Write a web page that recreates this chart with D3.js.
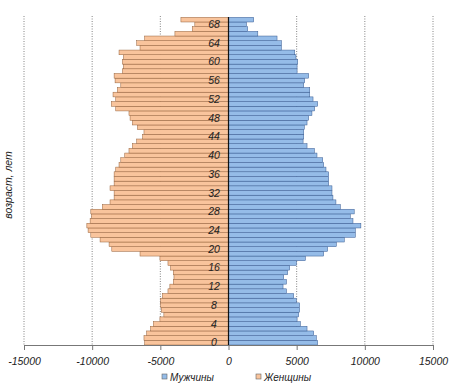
<!DOCTYPE html>
<html><head><meta charset="utf-8">
<script src="https://cdn.jsdelivr.net/npm/d3@7"></script>
<style>body{margin:0;background:#fff}svg{display:block}text{font-family:Arial,"Liberation Sans",sans-serif;font-style:italic}</style>
</head><body><svg id="c" width="455" height="389"></svg>
<script>
const ages = d3.range(0, 70);
const male = [6540,6440,6250,5760,5270,5030,5150,5220,5220,4980,4780,4250,4000,4250,4050,4340,4490,4980,5640,6980,
  7270,7910,8490,9300,9300,9710,9130,8930,9220,8200,7880,7660,7590,7590,7350,7350,7350,7150,6980,6910,
  6490,6300,5760,5470,5520,5520,5560,5760,5880,6120,6320,6540,6200,5960,5960,5520,5590,5880,5030,5030,
  5080,4950,4860,3880,3880,3560,2150,1410,1320,1850];
const female = [6150,6200,6000,5710,5510,5030,4740,4930,4980,4980,4850,4440,4300,4050,4000,4050,4250,4440,5030,6490,
  8560,8760,9420,10100,10300,10390,10150,10050,10100,9250,8690,8390,8390,8690,8390,8390,8390,8270,8030,7900,
  7610,7300,7050,6730,6300,6200,6680,7050,7220,7300,8270,8590,8270,8470,8150,7900,8320,8390,7780,7710,
  7780,7710,8030,6490,6730,6150,3930,2660,2470,3490];
const xTicks = [-15000,-10000,-5000,0,5000,10000,15000];
const ageLabels = d3.range(0, 70, 4);
const seriesNames = ["Мужчины", "Женщины"];
const colors = {male:"#95bce8", maleStroke:"#36598f", female:"#f9c49c", femaleStroke:"#94603a"};

const svg = d3.select("#c");
const x = d3.scaleLinear().domain([-15000,15000]).range([24,433]);
const y = d3.scaleBand().domain(ages).range([345,17.3]).padding(0);

// gridlines
svg.append("g").selectAll("line").data(xTicks.filter(d=>d!==0)).join("line")
  .attr("x1",d=>x(d)).attr("x2",d=>x(d)).attr("y1",16).attr("y2",345)
  .attr("stroke","#666").attr("stroke-width",0.8).attr("stroke-dasharray","1,1.5");

// bars
svg.append("g").selectAll("rect").data(ages).join("rect")
  .attr("x",(d,i)=>x(-female[i])).attr("width",(d,i)=>x(0)-x(-female[i]))
  .attr("y",d=>y(d)).attr("height",y.bandwidth())
  .attr("fill",colors.female).attr("stroke",colors.femaleStroke).attr("stroke-width",0.5);
svg.append("g").selectAll("rect").data(ages).join("rect")
  .attr("x",x(0)).attr("width",(d,i)=>x(male[i])-x(0))
  .attr("y",d=>y(d)).attr("height",y.bandwidth())
  .attr("fill",colors.male).attr("stroke",colors.maleStroke).attr("stroke-width",0.5);

// center axis
svg.append("line").attr("x1",x(0)).attr("x2",x(0)).attr("y1",17).attr("y2",345)
  .attr("stroke","#111").attr("stroke-width",1.2);

// x axis
const xa = svg.append("g").attr("transform","translate(0,345)")
  .call(d3.axisBottom(x).tickValues(xTicks).tickFormat(d=>String(d)).tickSize(5).tickSizeOuter(0));
xa.select(".domain").attr("stroke","#777");
xa.selectAll(".tick line").attr("stroke","#777");
xa.selectAll("text").attr("font-size",10.5).attr("fill","#222").attr("dy","1.1em")
  .style("font-family","Arial, 'Liberation Sans', sans-serif").style("font-style","italic");

// age labels
svg.append("g").selectAll("text").data(ageLabels).join("text")
  .attr("x",214).attr("y",d=>y(d)+y.bandwidth()/2).attr("dy","0.35em")
  .attr("text-anchor","middle").attr("font-size",10.5).attr("fill","#222").text(d=>d);

// y title
svg.append("text").attr("transform","translate(12,185) rotate(-90)")
  .attr("text-anchor","middle").attr("font-size",10.5).attr("fill","#222").text("возраст, лет");

// legend
const leg = [{n:seriesNames[0],f:colors.male,x:162},{n:seriesNames[1],f:colors.female,x:256}];
const lg = svg.append("g").selectAll("g").data(leg).join("g").attr("transform",d=>`translate(${d.x},377)`);
lg.append("rect").attr("x",0).attr("y",-3).attr("width",5).attr("height",5).attr("fill",d=>d.f).attr("stroke","#666").attr("stroke-width",0.6);
lg.append("text").attr("x",8).attr("y",0).attr("dy","0.35em").attr("font-size",10).attr("fill","#222").text(d=>d.n);
</script></body></html>
